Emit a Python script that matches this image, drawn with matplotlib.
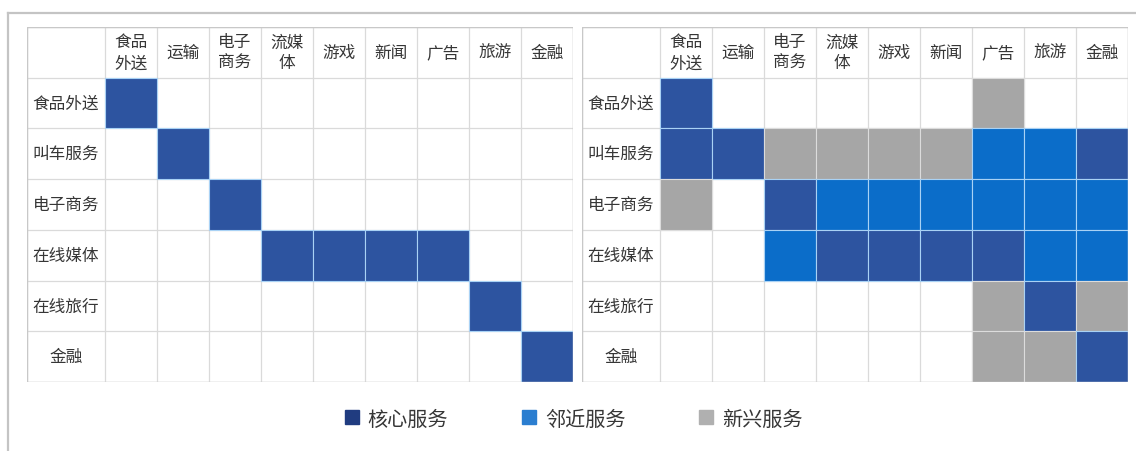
import numpy as np
import matplotlib
matplotlib.use("Agg")
import matplotlib.pyplot as plt
from matplotlib.patches import Rectangle
from matplotlib.lines import Line2D

plt.rcParams['font.family'] = ['Noto Sans CJK SC', 'DejaVu Sans']

# service levels: 0 = none, 1 = core, 2 = adjacent, 3 = emerging
LEVEL_NAMES = ['核心服务', '邻近服务', '新兴服务']
LEVEL_COLORS = {1: '#2d54a0', 2: '#0b6dc9', 3: '#a6a6a6'}
LEVEL_EDGES = {1: '#a9d2f5', 2: '#a9d2f5', 3: '#dcdcdc'}
LEGEND_COLORS = ['#203c80', '#2b7ed0', '#b0b0b0']

companies = ['食品外送', '叫车服务', '电子商务', '在线媒体', '在线旅行', '金融']
sectors = ['食品\n外送', '运输', '电子\n商务', '流媒\n体', '游戏', '新闻', '广告', '旅游', '金融']

# starting position: each company only in its home sector(s)
before = [
    [1, 0, 0, 0, 0, 0, 0, 0, 0],
    [0, 1, 0, 0, 0, 0, 0, 0, 0],
    [0, 0, 1, 0, 0, 0, 0, 0, 0],
    [0, 0, 0, 1, 1, 1, 1, 0, 0],
    [0, 0, 0, 0, 0, 0, 0, 1, 0],
    [0, 0, 0, 0, 0, 0, 0, 0, 1],
]

# expanded position: core plus adjacent and emerging services
after = [
    [1, 0, 0, 0, 0, 0, 3, 0, 0],
    [1, 1, 3, 3, 3, 3, 2, 2, 1],
    [3, 0, 1, 2, 2, 2, 2, 2, 2],
    [0, 0, 2, 1, 1, 1, 1, 2, 2],
    [0, 0, 0, 0, 0, 0, 3, 1, 3],
    [0, 0, 0, 0, 0, 0, 3, 3, 1],
]

FIG_W, FIG_H = 1136, 452
LABEL_COL = 1.5   # width of the row-label column, in cell units
TEXT_COLOR = '#363636'


def px_axes(fig, left, top, right, bottom):
    """
    Add an axes given its box in pixel coordinates (origin top-left).
    """
    return fig.add_axes([left / FIG_W, 1 - bottom / FIG_H,
                         (right - left) / FIG_W, (bottom - top) / FIG_H])


def draw_matrix(ax, matrix):
    """
    Draw one company/sector matrix as a table of coloured cells.

    Parameters:
    - ax: target axes.
    - matrix (list): rows of service levels.
    """
    data = np.array(matrix)
    n_rows, n_cols = data.shape
    ax.set_xlim(-LABEL_COL, n_cols)
    ax.set_ylim(n_rows, -1)
    ax.axis('off')

    # table grid
    xs = np.concatenate([[-LABEL_COL], np.arange(n_cols + 1)])
    ys = np.arange(-1, n_rows + 1)
    ax.vlines(xs, -1, n_rows, color='#dadada', lw=0.9, zorder=1)
    ax.hlines(ys, -LABEL_COL, n_cols, color='#dadada', lw=0.9, zorder=1)
    ax.add_patch(Rectangle((-LABEL_COL, -1), n_cols + LABEL_COL, n_rows + 1,
                           fill=False, edgecolor='#c8c8c8', lw=1.0, zorder=3))

    # filled cells
    for r in range(n_rows):
        for c in range(n_cols):
            level = data[r, c]
            if level:
                ax.add_patch(Rectangle((c, r), 1, 1, facecolor=LEVEL_COLORS[level],
                                       edgecolor=LEVEL_EDGES[level], lw=0.8, zorder=2))

    for r, name in enumerate(companies):
        ax.text(-LABEL_COL / 2, r + 0.5, name, ha='center', va='center',
                fontsize=12, color=TEXT_COLOR)
    for c, name in enumerate(sectors):
        ax.text(c + 0.5, -0.5, name, ha='center', va='center',
                fontsize=12, color=TEXT_COLOR, linespacing=1.3)


def main():
    fig = plt.figure(figsize=(FIG_W / 100, FIG_H / 100), dpi=100)
    fig.patch.set_facecolor('white')

    # outer frame: top and left edges
    fig.add_artist(Line2D([8 / FIG_W, 1], [1 - 14 / FIG_H] * 2,
                          color='#c4c4c4', lw=1.6))
    fig.add_artist(Line2D([8 / FIG_W] * 2, [0, 1 - 14 / FIG_H],
                          color='#c4c4c4', lw=1.6))

    ax_left = px_axes(fig, 27, 28, 573, 383)
    draw_matrix(ax_left, before)
    ax_right = px_axes(fig, 582, 28, 1128, 383)
    draw_matrix(ax_right, after)

    handles = [Line2D([], [], marker='s', linestyle='none', markersize=9.5,
                      markerfacecolor=col, markeredgecolor=col)
               for col in LEGEND_COLORS]
    fig.legend(handles, LEVEL_NAMES, loc='center', bbox_to_anchor=(573 / FIG_W, 1 - 420 / FIG_H),
               ncol=3, frameon=False, fontsize=14.5, handlelength=0.8,
               handletextpad=0.4, columnspacing=3.6, labelcolor=TEXT_COLOR)

    fig.savefig('out.png', dpi=100, facecolor='white')


if __name__ == "__main__":
    main()
